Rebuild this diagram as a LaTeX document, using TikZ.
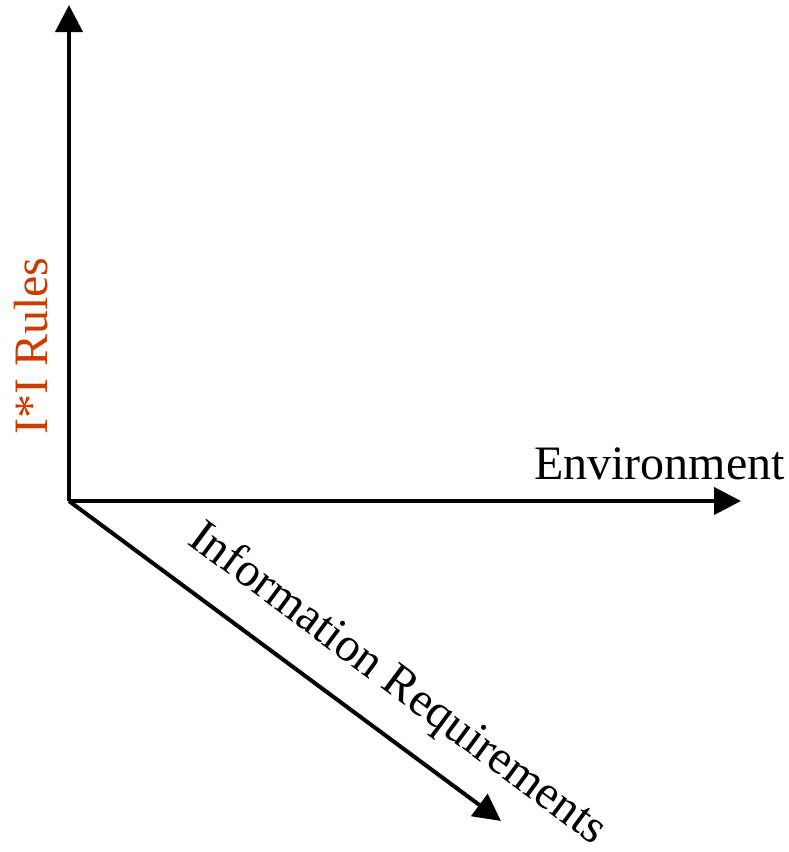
\documentclass[tikz,border=0pt]{standalone}
\usepackage{fontspec}
\setmainfont{Liberation Serif}
\usetikzlibrary{arrows.meta}
\definecolor{rulecol}{RGB}{204,60,0}
\begin{document}
\begin{tikzpicture}[x=1pt,y=-1pt,
  axis/.style={line width=4pt,-{Triangle[length=27pt,width=27pt]}},
  lbl/.style={inner sep=0pt,font=\fontsize{48}{48}\selectfont}]
\useasboundingbox (0,0) rectangle (789,852);
\coordinate (o) at (69,501);
\coordinate (ytip) at (69,5);
\coordinate (xtip) at (741,501);
\coordinate (ztip) at (501,821);
\draw[axis] (o) -- (ytip);
\draw[axis] (o) -- (xtip);
\draw[axis] (o) -- (ztip);
\node[lbl,anchor=base west] (env) at (534,479) {Environment};
\node[lbl,anchor=base west,rotate=90,text=rulecol] (rules) at (47,435) {I*I Rules};
\node[lbl,anchor=base west,rotate=-36.6] (info) at (186,543) {Information Requirements};
\end{tikzpicture}
\end{document}
